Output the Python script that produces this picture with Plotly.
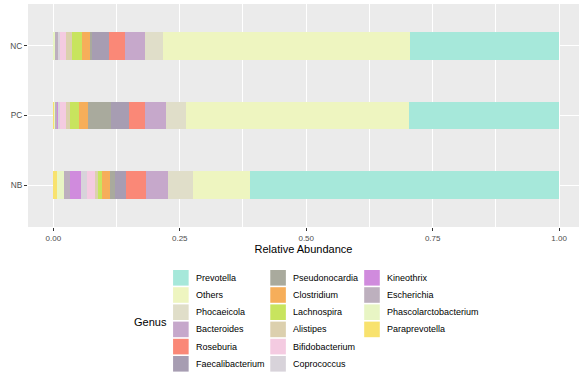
import plotly.graph_objects as go

samples = ["NC", "PC", "NB"]
genera = ["Prevotella", "Others", "Phocaeicola", "Bacteroides", "Roseburia", "Faecalibacterium",
          "Pseudonocardia", "Clostridium", "Lachnospira", "Alistipes", "Bifidobacterium", "Coprococcus",
          "Kineothrix", "Escherichia", "Phascolarctobacterium", "Paraprevotella"]
colors = ["#A6E8DA", "#EEF5C0", "#E0DEC9", "#C6A8CB", "#FA8877", "#A79DB2",
          "#A9AA9D", "#F6AE5A", "#C8E45E", "#DCD0AE", "#F4CBE1", "#D8D3DA",
          "#D08BDD", "#BDB0BE", "#E8F5C4", "#F8E26E"]

# relative abundance per sample (order: NC, PC, NB)
abund = {
    "Prevotella":            [0.294, 0.297, 0.612],
    "Others":                [0.490, 0.440, 0.112],
    "Phocaeicola":           [0.035, 0.040, 0.050],
    "Bacteroides":           [0.040, 0.041, 0.042],
    "Roseburia":             [0.031, 0.032, 0.040],
    "Faecalibacterium":      [0.033, 0.036, 0.023],
    "Pseudonocardia":        [0.004, 0.046, 0.009],
    "Clostridium":           [0.016, 0.018, 0.015],
    "Lachnospira":           [0.020, 0.017, 0.009],
    "Alistipes":             [0.012, 0.008, 0.006],
    "Bifidobacterium":       [0.011, 0.011, 0.015],
    "Coprococcus":           [0.003, 0.004, 0.013],
    "Kineothrix":            [0.001, 0.001, 0.021],
    "Escherichia":           [0.006, 0.006, 0.012],
    "Phascolarctobacterium": [0.003, 0.001, 0.014],
    "Paraprevotella":        [0.001, 0.002, 0.007],
}

W, H = 579, 377
L, R, T, B = 27.5, 0, 4, 150
PW, PH = W - L - R, H - T - B

def px2paper(x, y):
    return (x - L) / PW, (H - B - y) / PH

fig = go.Figure()
# stack from zero: last genus in the legend sits at the left
for g, c in reversed(list(zip(genera, colors))):
    fig.add_trace(go.Bar(y=samples, x=abund[g], name=g, orientation="h",
                         marker=dict(color=c, line=dict(width=0)), width=0.4,
                         showlegend=False))

shapes = []
annotations = []
key = 15.6
for k, (g, c) in enumerate(zip(genera, colors)):
    col, row = k // 6, k % 6
    kx = [172.7, 270.0, 364.0][col]
    cy = 277.8 + 17.2 * row
    x0, y0 = px2paper(kx, cy + key / 2)
    x1, y1 = px2paper(kx + key, cy - key / 2)
    shapes.append(dict(type="rect", xref="paper", yref="paper", x0=x0, x1=x1, y0=y0, y1=y1,
                       fillcolor=c, line=dict(width=0), layer="above"))
    tx, ty = px2paper(kx + key + 5.5, cy)
    annotations.append(dict(xref="paper", yref="paper", x=tx, y=ty, text=g, showarrow=False,
                            xanchor="left", yanchor="middle",
                            font=dict(size=9, color="#000000")))
gx, gy = px2paper(150, 321.7)
annotations.append(dict(xref="paper", yref="paper", x=gx, y=gy, text="Genus", showarrow=False,
                        xanchor="center", yanchor="middle", font=dict(size=11, color="#000000")))

fig.update_layout(
    width=W, height=H,
    margin=dict(l=L, r=R, t=T, b=B, pad=0),
    barmode="stack",
    paper_bgcolor="white",
    plot_bgcolor="#EBEBEB",
    font=dict(family="Liberation Sans, Arial, sans-serif"),
    shapes=shapes,
    annotations=annotations,
    showlegend=False,
    xaxis=dict(range=[-0.05, (W - L) / 506.3 - 0.05], tickvals=[0, 0.25, 0.5, 0.75, 1.0],
               ticktext=["0.00", "0.25", "0.50", "0.75", "1.00"],
               showgrid=True, gridcolor="white", gridwidth=1,
               minor=dict(tickvals=[0.125, 0.375, 0.625, 0.875], showgrid=True,
                          gridcolor="white", gridwidth=0.5, ticks=""),
               ticks="outside", ticklen=3, tickcolor="#333333", tickwidth=1,
               tickfont=dict(size=8, color="#4D4D4D"), zeroline=False, showline=False,
               title=dict(text="Relative Abundance", font=dict(size=11, color="#000000"), standoff=2)),
    yaxis=dict(type="category", categoryorder="array", categoryarray=["NB", "PC", "NC"],
               range=[-0.6, 2.6], showgrid=True, gridcolor="white", gridwidth=1,
               ticks="outside", ticklen=3, tickcolor="#333333", tickwidth=1,
               tickfont=dict(size=8.3, color="#4D4D4D"), zeroline=False, showline=False),
)

fig.write_html("out.html")
